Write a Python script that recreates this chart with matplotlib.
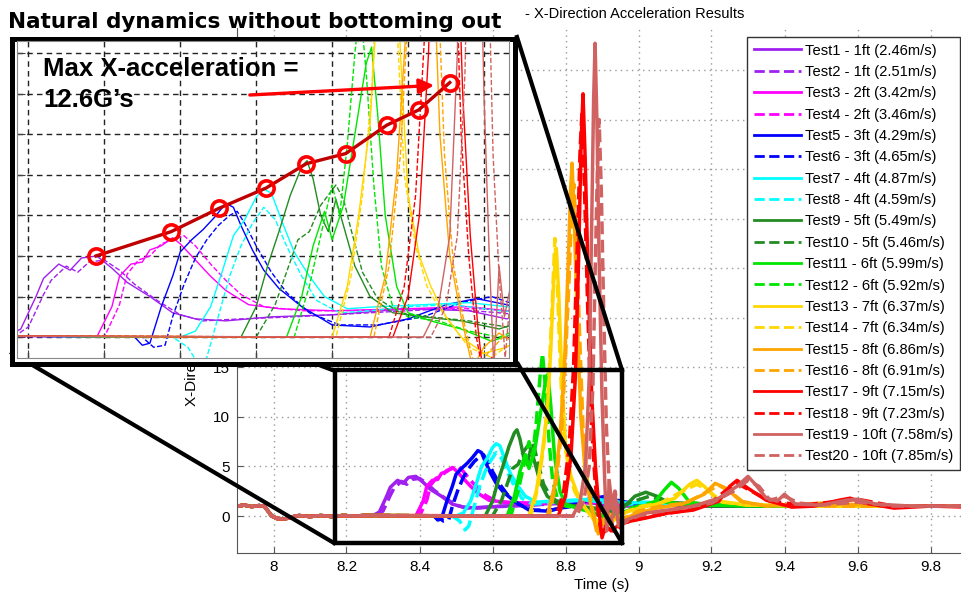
import matplotlib
matplotlib.use("Agg")
import matplotlib.pyplot as plt
from matplotlib.lines import Line2D
from matplotlib.patches import Rectangle

# pre-impact part shared by all 20 drops (traces lie on top of each other)
pre_t = [7.90, 7.92, 7.94, 7.96, 7.975, 7.985, 7.995, 8.01, 8.03, 8.05, 8.07, 8.10, 8.13, 8.16, 8.19, 8.22, 8.25]
pre_g = [1.0, 1.1, 0.95, 1.05, 1.0, 0.5, 0.0, -0.25, -0.3, -0.1, 0.05, -0.05, 0.05, -0.05, 0.05, 0.0, 0.05]

labels = ["Test1 - 1ft (2.46m/s)", "Test2 - 1ft (2.51m/s)", "Test3 - 2ft (3.42m/s)", "Test4 - 2ft (3.46m/s)",
          "Test5 - 3ft (4.29m/s)", "Test6 - 3ft (4.65m/s)", "Test7 - 4ft (4.87m/s)", "Test8 - 4ft (4.59m/s)",
          "Test9 - 5ft (5.49m/s)", "Test10 - 5ft (5.46m/s)", "Test11 - 6ft (5.99m/s)", "Test12 - 6ft (5.92m/s)",
          "Test13 - 7ft (6.37m/s)", "Test14 - 7ft (6.34m/s)", "Test15 - 8ft (6.86m/s)", "Test16 - 8ft (6.91m/s)",
          "Test17 - 9ft (7.15m/s)", "Test18 - 9ft (7.23m/s)", "Test19 - 10ft (7.58m/s)", "Test20 - 10ft (7.85m/s)"]
colors = ["#a020f0", "#a020f0", "#ff00ff", "#ff00ff", "#0000ff", "#0000ff", "#00ffff", "#00ffff",
          "#228b22", "#228b22", "#00e600", "#00e600", "#ffd700", "#ffd700", "#ffa500", "#ffa500",
          "#ff0000", "#ff0000", "#d06262", "#d06262"]
styles = ["-", "--"] * 10

t1 = [8.27, 8.29, 8.31, 8.32, 8.34, 8.355, 8.37, 8.39, 8.41, 8.43, 8.46, 8.49, 8.52, 8.56, 8.62, 8.70, 8.80, 8.88, 8.93, 8.97, 9.02, 9.1, 9.3, 9.5, 9.7, 9.9]
g1 = [0.0, 0.4, 2.0, 2.9, 3.6, 3.3, 3.9, 4.0, 3.4, 2.7, 2.0, 1.2, 0.9, 0.8, 1.0, 1.1, 1.4, 1.3, 0.9, 1.3, 1.2, 1.1, 1.0, 1.0, 1.0, 1.0]
t2 = [8.28, 8.30, 8.32, 8.33, 8.35, 8.365, 8.38, 8.40, 8.42, 8.44, 8.47, 8.50, 8.53, 8.58, 8.65, 8.75, 8.85, 8.92, 8.97, 9.05, 9.2, 9.4, 9.6, 9.9]
g2 = [0.0, 0.5, 2.1, 2.8, 3.5, 3.2, 3.7, 3.8, 3.3, 2.6, 1.8, 1.1, 0.8, 0.9, 1.0, 1.2, 1.4, 1.2, 1.0, 1.2, 1.1, 1.0, 1.0, 1.0]
t3 = [8.39, 8.41, 8.42, 8.435, 8.45, 8.46, 8.475, 8.49, 8.50, 8.52, 8.54, 8.56, 8.59, 8.63, 8.70, 8.80, 8.88, 8.93, 8.98, 9.05, 9.2, 9.4, 9.6, 9.9]
g3 = [0.0, 1.5, 3.0, 3.6, 3.7, 4.3, 4.5, 4.9, 4.6, 3.8, 3.0, 2.3, 1.6, 1.4, 1.3, 1.4, 1.5, 1.3, 1.1, 1.2, 1.0, 1.0, 1.0, 1.0]
t4 = [8.40, 8.42, 8.43, 8.445, 8.46, 8.475, 8.49, 8.505, 8.52, 8.54, 8.56, 8.58, 8.61, 8.66, 8.72, 8.82, 8.9, 8.95, 9.0, 9.1, 9.3, 9.5, 9.9]
g4 = [0.0, 1.6, 3.1, 3.8, 4.0, 4.6, 4.8, 5.0, 4.5, 3.6, 2.8, 2.1, 1.5, 1.3, 1.3, 1.4, 1.4, 1.2, 1.1, 1.1, 1.0, 1.0, 1.0]
t5 = [8.44, 8.45, 8.46, 8.475, 8.49, 8.50, 8.515, 8.53, 8.545, 8.56, 8.57, 8.58, 8.595, 8.61, 8.63, 8.66, 8.70, 8.75, 8.80, 8.85, 8.89, 8.93, 8.97, 9.03, 9.1, 9.3, 9.5, 9.9]
g5 = [0.0, -0.4, -0.3, 1.5, 3.0, 4.2, 4.8, 5.3, 5.9, 6.6, 6.4, 5.5, 4.3, 3.3, 2.4, 1.5, 0.6, 0.5, 0.9, 1.6, 1.9, 1.6, 1.2, 1.3, 1.1, 1.0, 1.0, 1.0]
t6 = [8.45, 8.465, 8.48, 8.49, 8.505, 8.52, 8.535, 8.55, 8.565, 8.575, 8.585, 8.60, 8.62, 8.64, 8.67, 8.71, 8.76, 8.82, 8.87, 8.91, 8.95, 9.0, 9.1, 9.3, 9.9]
g6 = [0.0, -0.5, -0.4, 1.0, 2.6, 3.9, 4.8, 5.5, 6.0, 6.2, 5.6, 4.5, 3.2, 2.2, 1.2, 0.6, 0.6, 1.0, 1.7, 2.0, 1.5, 1.2, 1.1, 1.0, 1.0]
t7 = [8.50, 8.52, 8.54, 8.555, 8.57, 8.585, 8.60, 8.61, 8.62, 8.635, 8.65, 8.67, 8.69, 8.72, 8.76, 8.82, 8.88, 8.93, 8.97, 9.02, 9.1, 9.3, 9.5, 9.9]
g7 = [0.0, 0.3, 1.5, 3.2, 5.0, 5.8, 6.9, 7.3, 7.1, 5.6, 4.2, 3.0, 2.0, 1.4, 1.5, 1.6, 1.7, 1.5, 1.3, 1.4, 1.2, 1.0, 1.0, 1.0]
t8 = [8.49, 8.51, 8.525, 8.535, 8.55, 8.565, 8.58, 8.595, 8.61, 8.625, 8.64, 8.66, 8.68, 8.71, 8.75, 8.80, 8.86, 8.92, 8.97, 9.03, 9.2, 9.5, 9.9]
g8 = [0.0, -0.5, -1.4, -1.0, 1.0, 3.0, 4.5, 5.6, 6.4, 5.8, 4.5, 3.0, 1.8, 1.2, 1.3, 1.5, 1.6, 1.3, 1.2, 1.3, 1.1, 1.0, 1.0]
t9 = [8.58, 8.60, 8.615, 8.63, 8.645, 8.66, 8.667, 8.675, 8.685, 8.695, 8.705, 8.715, 8.73, 8.75, 8.78, 8.82, 8.87, 8.92, 8.96, 8.99, 9.02, 9.05, 9.09, 9.15, 9.3, 9.5, 9.9]
g9 = [0.0, 1.5, 3.5, 5.2, 7.0, 8.4, 8.7, 7.8, 6.0, 5.2, 6.8, 5.5, 3.5, 2.0, 1.2, 1.0, 0.8, 0.4, 0.9, 2.0, 2.4, 2.0, 1.2, 1.0, 1.0, 1.0, 1.0]
t10 = [8.60, 8.625, 8.64, 8.655, 8.67, 8.685, 8.695, 8.705, 8.715, 8.725, 8.74, 8.76, 8.79, 8.83, 8.88, 8.93, 8.98, 9.03, 9.08, 9.2, 9.5, 9.9]
g10 = [0.0, 1.6, 3.2, 4.8, 5.2, 6.5, 7.0, 7.5, 6.8, 5.3, 3.2, 1.9, 1.2, 1.0, 0.8, 0.5, 1.4, 2.0, 1.4, 1.1, 1.0, 1.0]
t11 = [8.64, 8.66, 8.675, 8.69, 8.70, 8.715, 8.73, 8.745, 8.752, 8.76, 8.77, 8.785, 8.80, 8.83, 8.87, 8.91, 8.95, 9.0, 9.04, 9.07, 9.09, 9.11, 9.14, 9.2, 9.4, 9.9]
g11 = [0.0, 2.0, 4.5, 6.2, 4.8, 6.5, 10.0, 13.5, 14.3, 11.0, 6.0, 2.5, 1.2, 0.8, 0.4, -0.2, 0.3, 0.9, 1.2, 2.6, 3.4, 2.8, 1.4, 1.1, 1.0, 1.0]
t12 = [8.65, 8.67, 8.685, 8.70, 8.71, 8.72, 8.73, 8.737, 8.745, 8.755, 8.765, 8.78, 8.80, 8.84, 8.88, 8.92, 8.96, 9.0, 9.05, 9.1, 9.2, 9.5, 9.9]
g12 = [0.0, 2.5, 5.0, 7.5, 6.0, 9.5, 14.0, 16.4, 13.0, 7.5, 3.5, 1.5, 1.0, 0.8, 0.3, 0.0, 0.6, 1.0, 1.5, 1.3, 1.1, 1.0, 1.0]
t13 = [8.70, 8.72, 8.735, 8.75, 8.76, 8.768, 8.775, 8.782, 8.79, 8.80, 8.815, 8.83, 8.85, 8.87, 8.90, 8.93, 8.96, 9.0, 9.05, 9.1, 9.14, 9.16, 9.18, 9.22, 9.3, 9.5, 9.9]
g13 = [0.0, 2.5, 6.0, 10.5, 17.0, 24.0, 27.0, 22.0, 14.0, 7.0, 4.0, 2.5, 1.0, 0.0, -0.8, -0.5, 0.3, 0.8, 1.2, 1.8, 3.2, 3.6, 3.0, 1.5, 1.1, 1.0, 1.0]
t14 = [8.705, 8.725, 8.74, 8.752, 8.762, 8.771, 8.778, 8.786, 8.795, 8.81, 8.825, 8.84, 8.86, 8.88, 8.91, 8.94, 8.97, 9.01, 9.06, 9.12, 9.16, 9.19, 9.23, 9.3, 9.5, 9.9]
g14 = [0.0, 3.0, 7.0, 12.0, 20.0, 28.0, 23.0, 15.0, 8.0, 4.5, 2.5, 1.5, 0.5, -0.5, -1.0, -0.2, 0.5, 1.0, 1.3, 2.5, 3.2, 2.6, 1.4, 1.1, 1.0, 1.0]
t15 = [8.75, 8.77, 8.785, 8.797, 8.807, 8.814, 8.818, 8.824, 8.832, 8.842, 8.855, 8.87, 8.885, 8.90, 8.92, 8.95, 8.99, 9.05, 9.12, 9.18, 9.21, 9.24, 9.28, 9.35, 9.5, 9.7, 9.9]
g15 = [0.0, 3.0, 8.0, 15.0, 25.0, 33.0, 35.6, 30.0, 20.0, 10.0, 4.0, 1.0, -1.5, -0.5, 0.2, -0.5, 0.2, 0.8, 1.2, 2.2, 3.3, 2.8, 1.5, 1.0, 1.3, 1.0, 1.0]
t16 = [8.755, 8.775, 8.79, 8.80, 8.81, 8.817, 8.823, 8.83, 8.838, 8.848, 8.86, 8.875, 8.89, 8.905, 8.925, 8.955, 9.0, 9.06, 9.13, 9.19, 9.22, 9.25, 9.29, 9.35, 9.5, 9.9]
g16 = [0.0, 3.5, 9.0, 16.0, 24.0, 31.0, 33.5, 28.0, 19.0, 9.0, 3.5, 0.5, -1.8, -0.8, 0.0, -0.3, 0.5, 1.0, 1.3, 2.5, 3.1, 2.5, 1.3, 1.1, 1.0, 1.0]
t17 = [8.78, 8.80, 8.815, 8.827, 8.836, 8.843, 8.848, 8.854, 8.862, 8.872, 8.882, 8.892, 8.90, 8.91, 8.925, 8.95, 8.98, 9.02, 9.08, 9.15, 9.22, 9.25, 9.27, 9.30, 9.35, 9.42, 9.48, 9.55, 9.58, 9.62, 9.7, 9.8, 9.9]
g17 = [0.0, 2.0, 6.0, 14.0, 26.0, 38.0, 42.6, 36.0, 24.0, 12.0, 5.0, 0.5, -2.2, -1.0, -1.5, -0.8, -0.5, -0.2, 0.3, 0.6, 1.5, 3.0, 3.6, 2.8, 1.6, 0.9, 1.0, 1.6, 1.8, 1.3, 0.8, 1.0, 0.9]
t18 = [8.775, 8.795, 8.81, 8.822, 8.832, 8.84, 8.845, 8.852, 8.86, 8.87, 8.88, 8.89, 8.90, 8.915, 8.935, 8.96, 9.0, 9.05, 9.12, 9.2, 9.24, 9.27, 9.3, 9.36, 9.45, 9.55, 9.6, 9.7, 9.9]
g18 = [0.0, 2.5, 7.0, 15.0, 27.0, 37.0, 40.7, 33.0, 22.0, 10.0, 4.0, 0.0, -2.0, -1.2, -1.6, -0.7, -0.3, 0.1, 0.5, 1.4, 2.6, 3.3, 2.7, 1.5, 1.1, 1.5, 1.7, 1.0, 1.0]
t19 = [8.82, 8.84, 8.855, 8.865, 8.872, 8.877, 8.881, 8.886, 8.892, 8.90, 8.907, 8.913, 8.92, 8.927, 8.935, 8.945, 8.96, 8.98, 9.02, 9.08, 9.15, 9.22, 9.27, 9.30, 9.32, 9.35, 9.38, 9.40, 9.43, 9.5, 9.57, 9.6, 9.65, 9.75, 9.9]
g19 = [0.0, 1.5, 5.0, 14.0, 30.0, 42.0, 47.7, 40.0, 26.0, 12.0, 4.0, -1.5, 3.5, 1.0, 2.5, -1.0, -0.5, -0.2, 0.3, 0.6, 1.0, 1.8, 3.0, 4.0, 3.2, 1.8, 1.5, 2.2, 1.2, 1.1, 1.6, 1.7, 1.2, 1.0, 1.0]
t20 = [8.83, 8.85, 8.865, 8.875, 8.882, 8.888, 8.892, 8.898, 8.905, 8.912, 8.92, 8.928, 8.936, 8.945, 8.955, 8.97, 9.0, 9.05, 9.12, 9.2, 9.26, 9.3, 9.33, 9.36, 9.40, 9.44, 9.5, 9.6, 9.7, 9.9]
g20 = [0.0, 1.5, 5.0, 13.0, 26.0, 36.0, 40.0, 33.0, 20.0, 9.0, 3.0, -1.0, 2.5, 0.5, -0.8, -0.5, 0.0, 0.4, 0.8, 1.3, 2.5, 3.6, 3.0, 1.6, 2.0, 1.3, 1.1, 1.4, 1.0, 1.0]

tests_t = [t1, t2, t3, t4, t5, t6, t7, t8, t9, t10, t11, t12, t13, t14, t15, t16, t17, t18, t19, t20]
tests_g = [g1, g2, g3, g4, g5, g6, g7, g8, g9, g10, g11, g12, g13, g14, g15, g16, g17, g18, g19, g20]

# first-peak markers drawn in the zoomed view
peak_t = [8.389, 8.488, 8.551, 8.613, 8.666, 8.718, 8.772, 8.814, 8.855]
peak_g = [4.0, 5.2, 6.35, 7.35, 8.55, 9.05, 10.45, 11.2, 12.55]

xticks = [8.0, 8.2, 8.4, 8.6, 8.8, 9.0, 9.2, 9.4, 9.6, 9.8]
xtick_labels = ["8", "8.2", "8.4", "8.6", "8.8", "9", "9.2", "9.4", "9.6", "9.8"]
yticks = [0, 5, 10, 15, 20, 25, 30, 35, 40, 45]
# labels above 15 sit under the inset in the original, so they stay blank
ytick_labels = ["0", "5", "10", "15", "", "", "", "", "", ""]
zoom_xticks = [8.3, 8.4, 8.5, 8.6, 8.7, 8.8, 8.9]
zoom_yticks = [0, 2, 4, 6, 8, 10, 12, 14]

W, H = 961, 597
def fx(px):
    return px / W
def fy(py):
    return 1 - py / H

plt.rcParams['font.family'] = ['Liberation Sans', 'DejaVu Sans']
fig = plt.figure(figsize=(9.61, 5.97), dpi=100)

# main plot
ax = fig.add_axes([fx(237), fy(553), fx(967) - fx(237), fy(28) - fy(553)], zorder=1)
for i in range(20):
    ax.plot(pre_t + tests_t[i], pre_g + tests_g[i], color=colors[i], ls=styles[i], lw=2.5, label=labels[i])
ax.set_xlim(7.9, 9.9)
ax.set_ylim(-3.73, 49.24)
ax.set_xticks(xticks)
ax.set_xticklabels(xtick_labels)
ax.set_yticks(yticks)
ax.set_yticklabels(ytick_labels)
ax.tick_params(direction='in', length=4, labelsize=11, pad=5, color='#555555')
ax.grid(True, color='#999999', linestyle=(0, (1, 3)), lw=1)
for s in ['top', 'right']:
    ax.spines[s].set_visible(False)
for s in ['left', 'bottom']:
    ax.spines[s].set_color('#555555')
ax.set_xlabel("Time (s)", fontsize=11, labelpad=3)
ax.set_ylabel("X-Direction Acceleration (G's)", fontsize=11)
ax.yaxis.set_label_coords(-0.052, 0.47)
leg = ax.legend(loc='upper right', bbox_to_anchor=(0.9904, 0.9829), borderaxespad=0, fontsize=10.6,
                labelspacing=0.5, handlelength=3.2, handletextpad=0.3, borderpad=0.45,
                fancybox=False, framealpha=1, edgecolor='#333333')
leg.get_frame().set_linewidth(1)
for h in leg.get_lines():
    h.set_linewidth(2)

# the zoom window inside the main plot
ax.add_patch(Rectangle((8.1685, -2.72), 0.786, 17.45, fill=False, lw=3.2, ec='black', clip_on=False, zorder=10))

# connector lines between inset and zoom window
for (x0, y0, x1, y1) in [(517, 37, 622, 370), (518, 364, 622, 543), (12, 353, 334, 543), (290, 354, 335, 371)]:
    fig.add_artist(Line2D([fx(x0), fx(x1)], [fy(y0), fy(y1)], transform=fig.transFigure,
                          color='black', lw=3, zorder=2))

# inset frame and zoomed axes
fig.add_artist(Rectangle((fx(12), fy(364)), fx(515) - fx(12), fy(38.5) - fy(364), transform=fig.transFigure,
                         fc='white', ec='black', lw=3.6, zorder=3))
ax_in = fig.add_axes([fx(17), fy(358), fx(509) - fx(17), fy(41) - fy(358)], zorder=4)
for i in range(20):
    ax_in.plot(pre_t + tests_t[i], pre_g + tests_g[i], color=colors[i], ls=styles[i], lw=1.0)
ax_in.set_xlim(8.285, 8.933)
ax_in.set_ylim(-1.03, 14.6)
ax_in.set_xticks(zoom_xticks)
ax_in.set_yticks(zoom_yticks)
ax_in.set_xticklabels([])
ax_in.set_yticklabels([])
ax_in.tick_params(direction='in', length=6, color='#444444')
ax_in.grid(True, color='#222222', linestyle=(0, (4, 3)), lw=1)
for s in ax_in.spines.values():
    s.set_color('#888888')
    s.set_linewidth(0.8)
ax_in.plot(peak_t, peak_g, color='#c00000', lw=2.4, zorder=5)
ax_in.plot(peak_t, peak_g, 'o', ms=11, mfc='none', mec='#ff0000', mew=2.6, zorder=6)
ax_in.annotate('', xy=(8.838, 12.42), xytext=(8.588, 11.93),
               arrowprops=dict(arrowstyle='-|>', color='#ff0000', lw=2.4, mutation_scale=22), zorder=7)

fig.text(fx(43), fy(57), "Max X-acceleration =\n12.6G\u2019s", fontsize=18.5, fontweight='bold', va='top',
         linespacing=1.35, zorder=6)
fig.text(fx(8), fy(28), "Natural dynamics without bottoming out", fontsize=15.5, fontweight='bold',
         family='DejaVu Sans', va='baseline', zorder=6)
fig.text(fx(525), fy(14), "- X-Direction Acceleration Results", fontsize=10.5, va='center', zorder=6)

fig.savefig("out.png", dpi=100)
